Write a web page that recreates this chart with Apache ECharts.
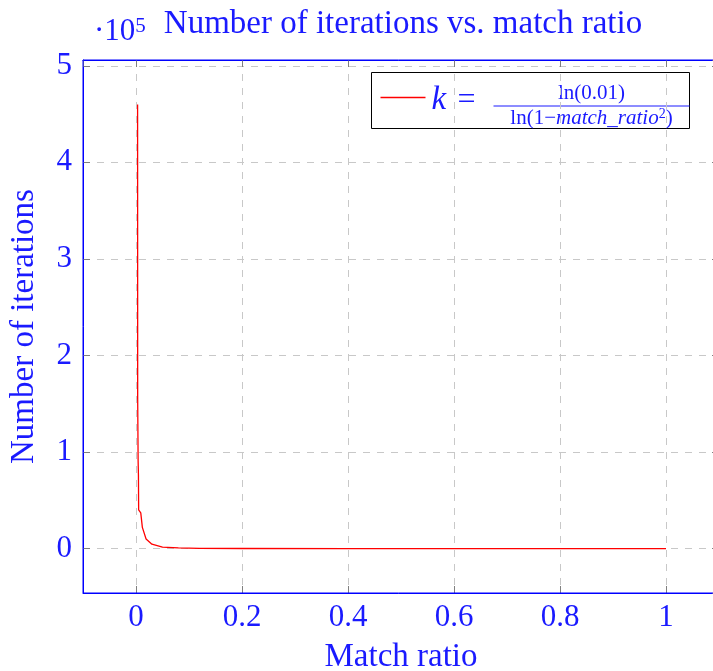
<!DOCTYPE html>
<html>
<head>
<meta charset="utf-8">
<script src="https://cdn.jsdelivr.net/npm/echarts@6/dist/echarts.min.js"></script>
<style>
  html, body { margin: 0; padding: 0; background: #fff; }
  #chart { width: 713px; height: 671px; }
</style>
</head>
<body>
<div id="chart"></div>
<script>
// match ratio (x) and number of iterations (y)
const matchRatio = [0.0030, 0.0032, 0.0040, 0.0046, 0.0050, 0.0090, 0.012, 0.019, 0.030, 0.050, 0.080, 0.12, 0.20, 0.40, 0.60, 0.80, 1.0];
const iterations = [460000, 153000, 91000, 76000, 40000, 37000, 22000, 10000, 4500, 1500, 700, 300, 100, 30, 10, 5, 0];
const xTicks = [0, 0.2, 0.4, 0.6, 0.8, 1];
const yTicks = [0, 1, 2, 3, 4, 5]; // x 10^5

const blue = '#0000ff';
const font = 'Liberation Serif';
const gridColor = '#c8c8c8';
const tickColor = '#7f7f7f';

const points = matchRatio.map((x, i) => [x, iterations[i]]);

const baseX = {
  type: 'value',
  min: -0.1,
  max: 1.1,
  splitNumber: 6,
  axisLine: { show: true, onZero: false, lineStyle: { color: blue, width: 1 } },
  axisTick: { show: true, inside: true, length: 7, lineStyle: { color: tickColor } },
  splitLine: { show: false },
  axisLabel: { show: false }
};
const baseY = {
  type: 'value',
  min: -46000,
  max: 506000,
  splitNumber: 5,
  axisLine: { show: true, onZero: false, lineStyle: { color: blue, width: 1 } },
  axisTick: { show: true, inside: true, length: 7, lineStyle: { color: tickColor } },
  splitLine: { show: false },
  axisLabel: { show: false }
};

const option = {
  animation: false,
  backgroundColor: '#fff',
  textStyle: { fontFamily: font },
  title: {
    text: 'Number of iterations vs. match ratio',
    left: 398,
    textAlign: 'center',
    top: 3,
    textStyle: { color: '#1a1aff', fontFamily: font, fontSize: 33, fontWeight: 'normal' }
  },
  grid: {
    left: 83, top: 60, right: -6, bottom: 78, containLabel: false, outerBoundsMode: 'none',
    show: true, backgroundColor: 'transparent', borderColor: blue, borderWidth: 1, z: 10
  },
  xAxis: [
    Object.assign({}, baseX, {
      position: 'bottom',
      name: 'Match ratio',
      nameLocation: 'middle',
      nameGap: 48,
      nameTextStyle: { color: '#1a1aff', fontFamily: font, fontSize: 33 },
      splitLine: { show: true, showMinLine: false, showMaxLine: false, lineStyle: { color: gridColor, type: [7, 7] } },
      axisLabel: {
        show: true, color: '#1a1aff', fontFamily: font, fontSize: 31, margin: 9,
        showMinLabel: false, showMaxLabel: false,
        formatter: v => xTicks.some(t => Math.abs(t - v) < 1e-9) ? String(+v.toFixed(1)) : ''
      }
    }),
    Object.assign({}, baseX, { position: 'top' })
  ],
  yAxis: [
    Object.assign({}, baseY, {
      position: 'left',
      name: 'Number of iterations',
      nameLocation: 'middle',
      nameGap: 42,
      nameTextStyle: { color: '#1a1aff', fontFamily: font, fontSize: 33 },
      splitLine: { show: true, showMinLine: false, showMaxLine: false, lineStyle: { color: gridColor, type: [7, 7] } },
      axisLabel: {
        show: true, color: '#1a1aff', fontFamily: font, fontSize: 31, margin: 11,
        showMinLabel: false, showMaxLabel: false,
        formatter: v => yTicks.includes(v / 1e5) ? String(v / 1e5) : ''
      }
    }),
    Object.assign({}, baseY, { position: 'right' })
  ],
  series: [{
    type: 'line',
    name: 'k',
    xAxisIndex: 0,
    yAxisIndex: 0,
    data: points,
    showSymbol: false,
    smooth: false,
    lineStyle: { color: '#ff0000', width: 1.3 },
    itemStyle: { color: '#ff0000' }
  }],
  graphic: [
    // exponent of the y axis
    {
      type: 'text', left: 94, top: 16,
      style: {
        text: '{a|·10}{b|5}',
        rich: {
          a: { fontFamily: font, fontSize: 31, fill: '#1a1aff', lineHeight: 32 },
          b: { fontFamily: font, fontSize: 21, fill: '#1a1aff', lineHeight: 32, verticalAlign: 'top', padding: [0, 0, 14, 0] }
        }
      }
    },
    // legend box
    {
      type: 'group', left: 371, top: 72, z: 20,
      children: [
        { type: 'rect', shape: { x: 0, y: 0, width: 318, height: 56 }, style: { fill: '#fff', stroke: '#000', lineWidth: 1 } },
        { type: 'line', shape: { x1: 9, y1: 25, x2: 54, y2: 25 }, style: { stroke: '#ff0000', lineWidth: 1.3 } },
        { type: 'text', x: 60, y: 28, style: { text: 'k', font: 'italic 33px "Liberation Serif"', fill: '#1a1aff', verticalAlign: 'middle' } },
        { type: 'text', x: 86, y: 28, style: { text: '=', font: '32px "Liberation Serif"', fill: '#1a1aff', verticalAlign: 'middle' } },
        { type: 'text', x: 220, y: 21, style: { text: 'ln(0.01)', font: '21px "Liberation Serif"', fill: '#1a1aff', align: 'center', verticalAlign: 'middle' } },
        { type: 'line', shape: { x1: 122, y1: 33.5, x2: 318, y2: 33.5 }, style: { stroke: '#1a1aff', lineWidth: 1 } },
        {
          type: 'text', x: 220, y: 46,
          style: {
            text: '{n|ln(1−}{i|match_ratio}{s|2}{n|)}',
            align: 'center', verticalAlign: 'middle',
            rich: {
              n: { fontFamily: font, fontSize: 21, fill: '#1a1aff' },
              i: { fontFamily: font, fontSize: 21, fontStyle: 'italic', fill: '#1a1aff' },
              s: { fontFamily: font, fontSize: 14, fill: '#1a1aff', verticalAlign: 'top', padding: [0, 0, 8, 0] }
            }
          }
        }
      ]
    }
  ]
};

const chart = echarts.init(document.getElementById('chart'), null, { renderer: 'canvas' });
chart.setOption(option);
</script>
</body>
</html>
